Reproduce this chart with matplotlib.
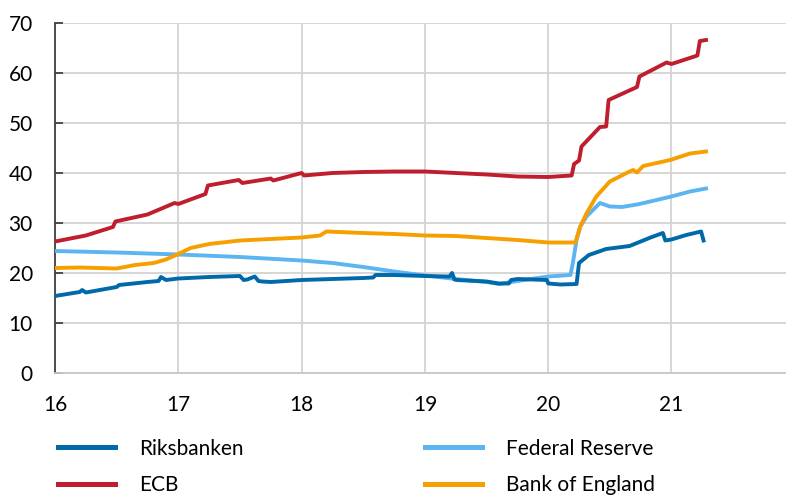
import matplotlib
matplotlib.use("Agg")
import matplotlib.pyplot as plt
from matplotlib.lines import Line2D

plt.rcParams['font.family'] = ['Lato', 'DejaVu Sans']

# Riksbanken (dark blue)
rb_x = [16.0, 16.2, 16.22, 16.25, 16.5, 16.52, 16.75, 16.84, 16.86, 16.9, 17.0, 17.25, 17.5, 17.53, 17.56,
        17.62, 17.65, 17.68, 17.75, 18.0, 18.25, 18.5, 18.58, 18.6, 18.75, 19.0, 19.2, 19.22, 19.24, 19.26,
        19.5, 19.6, 19.68, 19.7, 19.75, 19.99, 20.0, 20.1, 20.23, 20.25, 20.33, 20.47, 20.66, 20.83,
        20.93, 20.95, 21.0, 21.12, 21.24, 21.26]
rb_y = [15.4, 16.2, 16.6, 16.1, 17.2, 17.6, 18.2, 18.4, 19.2, 18.6, 18.9, 19.2, 19.4, 18.6, 18.7,
        19.3, 18.4, 18.3, 18.2, 18.6, 18.8, 19.0, 19.1, 19.6, 19.6, 19.4, 19.3, 20.0, 18.7, 18.6,
        18.3, 17.9, 17.9, 18.6, 18.8, 18.6, 17.9, 17.7, 17.8, 22.0, 23.6, 24.8, 25.4, 27.1,
        28.0, 26.5, 26.7, 27.6, 28.3, 26.5]

# ECB (red)
ecb_x = [16.0, 16.25, 16.47, 16.49, 16.75, 16.97, 17.0, 17.22, 17.24, 17.49, 17.52, 17.75, 17.77, 18.0,
         18.02, 18.25, 18.5, 18.75, 19.0, 19.25, 19.5, 19.75, 20.0, 20.19, 20.21, 20.25, 20.27, 20.42,
         20.47, 20.49, 20.72, 20.74, 20.96, 21.0, 21.21, 21.23, 21.28]
ecb_y = [26.3, 27.5, 29.2, 30.3, 31.7, 34.0, 33.8, 35.8, 37.5, 38.6, 38.0, 38.9, 38.5, 40.0,
         39.5, 40.0, 40.2, 40.3, 40.3, 40.0, 39.7, 39.3, 39.2, 39.5, 41.8, 42.5, 45.3, 49.2,
         49.3, 54.6, 57.2, 59.3, 62.1, 61.8, 63.5, 66.4, 66.6]

# Federal Reserve (light blue)
fed_x = [16.0, 16.5, 17.0, 17.5, 18.0, 18.25, 18.5, 18.75, 19.0, 19.25, 19.5, 19.6, 19.75, 20.0,
         20.18, 20.2, 20.23, 20.26, 20.31, 20.42, 20.5, 20.6, 20.74, 21.0, 21.15, 21.28]
fed_y = [24.4, 24.1, 23.7, 23.2, 22.5, 22.0, 21.2, 20.3, 19.5, 18.8, 18.2, 17.8, 18.4, 19.3,
         19.6, 22.0, 26.6, 29.3, 31.3, 34.0, 33.3, 33.2, 33.8, 35.3, 36.3, 36.9]

# Bank of England (orange)
boe_x = [16.0, 16.2, 16.5, 16.65, 16.8, 16.9, 17.0, 17.1, 17.25, 17.5, 17.75, 18.0, 18.15, 18.2,
         18.5, 18.75, 19.0, 19.25, 19.5, 19.75, 20.0, 20.22, 20.26, 20.31, 20.39, 20.5, 20.66,
         20.69, 20.72, 20.77, 20.99, 21.15, 21.28]
boe_y = [21.0, 21.1, 20.9, 21.6, 22.0, 22.7, 23.8, 25.0, 25.8, 26.5, 26.8, 27.1, 27.5, 28.3,
         28.0, 27.8, 27.5, 27.4, 27.0, 26.6, 26.1, 26.1, 29.3, 31.9, 35.3, 38.3, 40.3,
         40.6, 40.1, 41.4, 42.6, 43.9, 44.3]

labels = ["Riksbanken", "ECB", "Federal Reserve", "Bank of England"]
colors = ["#0069AA", "#BE1E2D", "#5CB4F0", "#F5A000"]
xticks = [16, 17, 18, 19, 20, 21]
yticks = [0, 10, 20, 30, 40, 50, 60, 70]

fig = plt.figure(figsize=(7.86, 4.97), dpi=100)
ax = fig.add_axes([55/786, 124/497, 1 - 55/786, 350/497])

series = [(rb_x, rb_y), (ecb_x, ecb_y), (fed_x, fed_y), (boe_x, boe_y)]
order = [2, 3, 0, 1]
for i in order:
    xs, ys = series[i]
    ax.plot(xs, ys, color=colors[i], lw=2.8, solid_joinstyle='round', zorder=3)

ax.set_xlim(16, 16 + 731/123.3)
ax.set_ylim(0, 70)
ax.set_xticks(xticks)
ax.set_yticks(yticks)
ax.grid(True, color="#D3D3D3", lw=1.3, zorder=0)
ax.set_axisbelow(True)
for s in ['top', 'right']:
    ax.spines[s].set_visible(False)
ax.spines['left'].set_color("#404040")
ax.spines['left'].set_linewidth(1.3)
ax.spines['bottom'].set_color("#C8C8C8")
ax.spines['bottom'].set_linewidth(1.3)
ax.tick_params(axis='y', direction='in', length=6, width=1.3, color="#404040", pad=16, labelsize=15)
ax.tick_params(axis='x', length=0, pad=16, labelsize=15)

handles = [Line2D([], [], color=c, lw=3.6) for c in colors]
fig.legend(handles, labels, loc='upper left', bbox_to_anchor=(39/786, 1 - 420/497),
           ncol=2, frameon=False, fontsize=15, handlelength=2.75, handletextpad=1.15,
           columnspacing=8.7, labelspacing=0.8)

fig.savefig("out.png", dpi=100)
